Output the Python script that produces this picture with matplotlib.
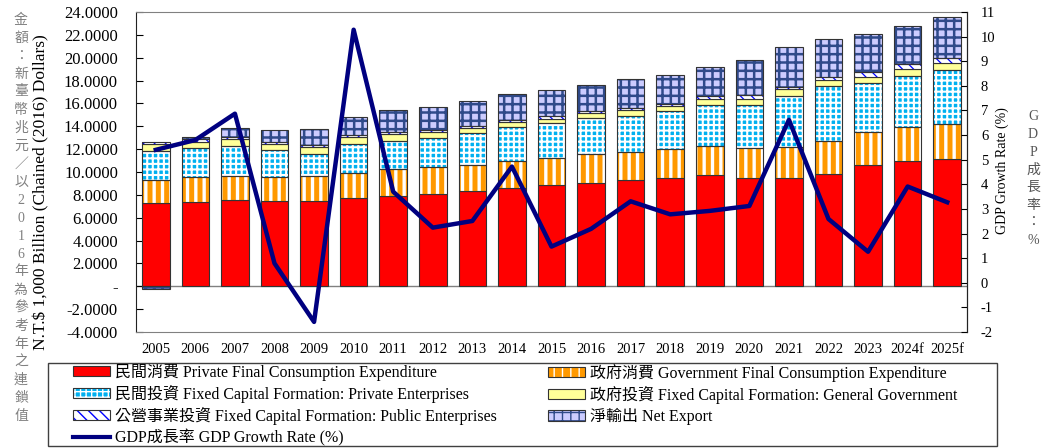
"""Taiwan GDP components (stacked bars) with GDP growth rate line."""

import matplotlib

matplotlib.use("Agg")
import matplotlib.pyplot as plt
import numpy as np
from matplotlib.patches import Patch, Rectangle
from matplotlib.lines import Line2D
from matplotlib.ticker import FuncFormatter

years = ["2005", "2006", "2007", "2008", "2009", "2010", "2011", "2012", "2013",
         "2014", "2015", "2016", "2017", "2018", "2019", "2020", "2021", "2022",
         "2023", "2024f", "2025f"]

private_consumption = [7.26, 7.38, 7.55, 7.46, 7.44, 7.70, 7.93, 8.08, 8.31, 8.60, 8.84,
                       9.06, 9.27, 9.50, 9.74, 9.45, 9.45, 9.83, 10.61, 10.94, 11.16]
gov_consumption = [2.01, 2.16, 2.10, 2.10, 2.18, 2.24, 2.31, 2.33, 2.28, 2.39, 2.38,
                   2.49, 2.51, 2.54, 2.56, 2.68, 2.76, 2.86, 2.92, 2.97, 3.07]
private_invest = [2.57, 2.53, 2.65, 2.34, 1.95, 2.51, 2.45, 2.54, 2.80, 2.92, 3.04,
                  3.17, 3.15, 3.27, 3.56, 3.76, 4.44, 4.81, 4.26, 4.49, 4.69]
gov_invest = [0.58, 0.55, 0.56, 0.55, 0.62, 0.61, 0.61, 0.55, 0.43, 0.44, 0.40,
              0.42, 0.49, 0.49, 0.55, 0.52, 0.59, 0.55, 0.55, 0.59, 0.59]
public_invest = [0.23, 0.24, 0.23, 0.20, 0.20, 0.18, 0.17, 0.17, 0.23, 0.20, 0.27,
                 0.22, 0.15, 0.18, 0.24, 0.30, 0.22, 0.24, 0.44, 0.46, 0.44]
net_export = [-0.26, 0.18, 0.79, 1.05, 1.35, 1.55, 1.95, 2.04, 2.16, 2.30, 2.22,
              2.23, 2.59, 2.53, 2.56, 3.06, 3.50, 3.37, 3.29, 3.32, 3.58]
gdp_growth = [5.40, 5.80, 6.87, 0.79, -1.59, 10.28, 3.70, 2.24, 2.51, 4.72, 1.47,
              2.19, 3.31, 2.78, 2.92, 3.12, 6.62, 2.59, 1.26, 3.91, 3.27]

labels = [
    "民間消費 Private Final Consumption Expenditure",
    "政府消費 Government Final Consumption Expenditure",
    "民間投資 Fixed Capital Formation: Private Enterprises",
    "政府投資 Fixed Capital Formation: General Government",
    "公營事業投資 Fixed Capital Formation: Public Enterprises",
    "淨輸出 Net Export",
]
line_label = "GDP成長率 GDP Growth Rate (%)"

plt.rcParams["font.family"] = ["Liberation Serif", "Noto Sans CJK TC"]
plt.rcParams["axes.unicode_minus"] = False

EDGE = "#333333"
# face, hatch, hatch colour, hatch linewidth
styles = [
    ("#FF0000", None, None, 0),
    ("#FF9900", "||", "#FFFFFF", 2.4),
    ("#00B0F0", "+++", "#FFFFFF", 1.5),
    ("#FFFF99", None, None, 0),
    ("#FFFFFF", "\\\\\\", "#0000FF", 0.9),
    ("#CCCCFF", "++", "#2F4A8A", 1.8),
]
series = [private_consumption, gov_consumption, private_invest,
          gov_invest, public_invest, net_export]


def set_hatch_lw(patches, lw):
    for p in patches:
        if hasattr(p, "set_hatch_linewidth"):
            p.set_hatch_linewidth(lw)


fig = plt.figure(figsize=(10.46, 4.48), dpi=100)
ax = fig.add_axes([136 / 1046, 1 - 332 / 448, (967 - 136) / 1046, 320 / 448])

x = np.arange(len(years))
width = 0.7
pos = np.zeros(len(years))
neg = np.zeros(len(years))
handles = []
for vals, (face, hatch, hcolor, hlw) in zip(series, styles):
    vals = np.array(vals)
    bottom = np.where(vals >= 0, pos, neg)
    if hatch:
        with plt.rc_context({"hatch.linewidth": hlw}):
            bars = ax.bar(x, vals, width, bottom=bottom, color=face, edgecolor=hcolor,
                          linewidth=0, hatch=hatch, zorder=2)
            set_hatch_lw(bars, hlw)
            ax.bar(x, vals, width, bottom=bottom, fill=False, edgecolor=EDGE,
                   linewidth=0.8, zorder=3)
            hp = Patch(facecolor=face, edgecolor=hcolor, hatch=hatch, linewidth=0)
            set_hatch_lw([hp], hlw)
        handles.append((hp, Patch(fill=False, edgecolor=EDGE, linewidth=0.8)))
    else:
        ax.bar(x, vals, width, bottom=bottom, color=face, edgecolor=EDGE,
               linewidth=0.8, zorder=2)
        handles.append(Patch(facecolor=face, edgecolor=EDGE, linewidth=0.8))
    pos += np.where(vals >= 0, vals, 0)
    neg += np.where(vals < 0, vals, 0)

ax.axhline(0, color="#808080", lw=1, zorder=1.5)
ax.set_xlim(-0.5, len(years) - 0.5)
ax.set_ylim(-4, 24)
ax.set_yticks(np.arange(-4, 25, 2))
ax.yaxis.set_major_formatter(FuncFormatter(lambda v, _: "-" if abs(v) < 1e-9 else f"{v:.4f}"))
ax.set_xticks(x)
ax.set_xticklabels(years)
ax.tick_params(axis="y", direction="in", length=5, labelsize=12, pad=13)
ax.tick_params(axis="x", length=0, labelsize=10.5, pad=8)
for side in ("top", "bottom"):
    ax.spines[side].set_color("#808080")
ax.spines["left"].set_color("#222222")

ax2 = ax.twinx()
ax2.plot(x, gdp_growth, color="#000080", lw=3.2, zorder=4)
ax2.set_ylim(-2, 11)
ax2.set_yticks(np.arange(-2, 12, 1))
ax2.tick_params(axis="y", direction="in", length=4, labelsize=10.5, pad=10)
for side in ("top", "bottom", "left"):
    ax2.spines[side].set_visible(False)
ax2.spines["right"].set_color("#222222")

# axis titles
fig.text(41 / 1046, 1 - 192 / 448, "N.T.$ 1,000 Billion (Chained (2016) Dollars)",
         rotation=90, ha="center", va="center", fontsize=12.5)
fig.text(1002 / 1046, 1 - 171 / 448, "GDP Growth Rate (%)",
         rotation=90, ha="center", va="center", fontsize=10)

left_chars = list("金額：新臺幣兆元／以2016年為參考年之連鎖值")
for i, ch in enumerate(left_chars):
    fig.text(21 / 1046, 1 - (20 + i * 18) / 448, ch, ha="center", va="center",
             fontsize=10, color="#808080")
right_chars = list("GDP成長率：%")
for i, ch in enumerate(right_chars):
    fig.text(1033 / 1046, 1 - (117 + i * 17.6) / 448, ch, ha="center", va="center",
             fontsize=10, color="#555555")

# legend: two columns placed separately, one frame around both
line_handle = Line2D([], [], color="#000080", lw=3)
col1 = [handles[0], handles[2], handles[4], line_handle]
col1_labels = [labels[0], labels[2], labels[4], line_label]
col2 = [handles[1], handles[3], handles[5]]
col2_labels = [labels[1], labels[3], labels[5]]
legend_kw = dict(loc="upper left", frameon=False, borderpad=0, borderaxespad=0,
                 handlelength=2.3, handleheight=0.6, handletextpad=0.3,
                 labelspacing=0.25, fontsize=11.5)
fig.legend(col1, col1_labels, bbox_to_anchor=(73 / 1046, 1 - 364 / 448), **legend_kw)
fig.legend(col2, col2_labels, bbox_to_anchor=(548 / 1046, 1 - 364 / 448), **legend_kw)
fig.add_artist(Rectangle((48 / 1046, 1 - 446 / 448), (997 - 48) / 1046, (446 - 363) / 448,
                         transform=fig.transFigure, fill=False, edgecolor="#404040", lw=1))

fig.savefig("out.png", dpi=100)
plt.close(fig)
